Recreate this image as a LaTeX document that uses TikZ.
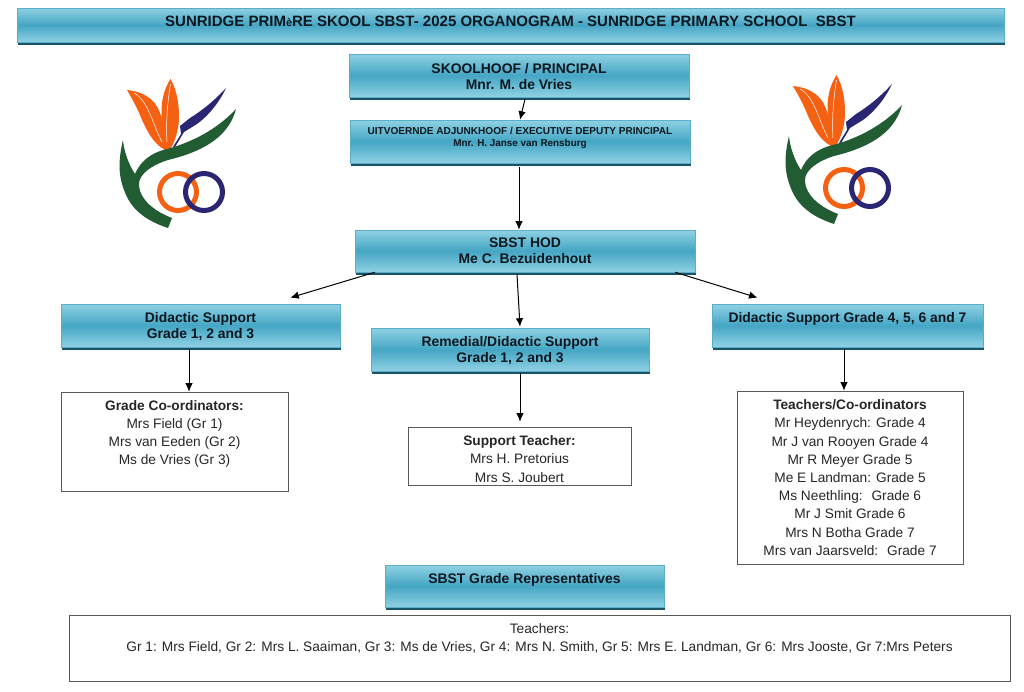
\documentclass[tikz,border=0pt]{standalone}
\usepackage{fontspec}
\setmainfont{Liberation Sans}
\usetikzlibrary{arrows.meta,shadows}
\definecolor{barlight}{rgb}{0.56,0.82,0.89}
\definecolor{barmid}{rgb}{0.27,0.65,0.77}
\definecolor{barline}{rgb}{0.36,0.68,0.78}
\definecolor{barshadow}{rgb}{0.10,0.33,0.40}
\definecolor{bartext}{rgb}{0.05,0.09,0.12}
\definecolor{logoorange}{rgb}{0.96,0.38,0.07}
\definecolor{logoblue}{rgb}{0.17,0.15,0.45}
\definecolor{logogreen}{rgb}{0.13,0.36,0.20}
\tikzset{bar/.style args={#1 by #2}{draw=barline, line width=0.6pt, top color=barlight, bottom color=barlight, middle color=barmid, general shadow={fill=barshadow, shadow xshift=1.2pt, shadow yshift=-2.6pt}, minimum width=#1pt, minimum height=#2pt, inner sep=0pt, align=center, text=bartext, font=\fontsize{13.9}{16}\selectfont\bfseries}}
\tikzset{sheet/.style args={#1 by #2}{draw=black!65, line width=0.6pt, fill=white, minimum width=#1pt, minimum height=#2pt, inner sep=0pt, align=center, text=black!85, font=\fontsize{13.7}{18.2}\selectfont}}
\tikzset{link/.style={line width=1pt, -{Latex[length=8.5pt,width=7.5pt]}}}
\tikzset{logo/.pic={
\fill[logoorange] (127,90) .. controls (145,92) and (158,100) .. (162,120) .. controls (160,100) and (165,88) .. (170.5,79) .. controls (178,92) and (180,110) .. (178.5,125) .. controls (177,135) and (174,143) .. (170,150) -- (165,150) .. controls (152,143) and (146,128) .. (142,120) .. controls (137,107) and (131,97) .. (127,90) -- cycle;
\draw[white, line width=0.5pt] (134,93) .. controls (148,100) and (153,125) .. (162,142);
\draw[white, line width=0.5pt] (170.5,84) .. controls (167,105) and (166,125) .. (167,142);
\fill[logoblue] (226,88) .. controls (219,103) and (208,116) .. (197,124) -- (184,132) -- (175,147) -- (173,147) -- (181,134) -- (180,126) -- (190,118) .. controls (203,110) and (215,100) .. (226,88) -- cycle;
\fill[logogreen] (236,109) .. controls (222,124) and (200,140) .. (167,149) .. controls (150,153) and (140,162) .. (135,174) .. controls (129,165) and (124,152) .. (123,140) .. controls (117,165) and (119,180) .. (127,197) .. controls (135,213) and (150,222) .. (168,228) -- (172,218) .. controls (156,212) and (139,200) .. (139,184) .. controls (139,174) and (152,165) .. (168,160) .. controls (197,153) and (228,140) .. (236,109) -- cycle;
\draw[logoorange, line width=5pt] (178,192) circle (18.5);
\draw[logoblue, line width=5pt] (204,192) circle (18.5);
}}

\begin{document}
\begin{tikzpicture}[x=1pt,y=-1pt]
\useasboundingbox (0,0) rectangle (1024,691);
\pic at (0,0) {logo};
\pic at (666,-4) {logo};
\node[bar=987 by 34, align=none, text depth=7pt, font=\fontsize{15}{16}\selectfont\bfseries] (title) at (510.5,25) {SUNRIDGE PRIM{\fontsize{11}{9}\selectfont è}RE SKOOL SBST- 2025 ORGANOGRAM - SUNRIDGE PRIMARY SCHOOL~ SBST};
\node[bar=340 by 43, text height=28pt, text depth=0pt] (principal) at (519,75.5) {SKOOLHOOF / PRINCIPAL\\Mnr. M. de Vries};
\node[bar=340 by 43, font=\fontsize{10.05}{12}\selectfont\bfseries, text depth=9pt] (deputy) at (520,141.5) {UITVOERNDE ADJUNKHOOF / EXECUTIVE DEPUTY PRINCIPAL\\{\fontsize{9.9}{12}\selectfont Mnr. H. Janse van Rensburg}};
\node[bar=340 by 42, text depth=1pt] (hod) at (525,251) {SBST HOD\\Me C. Bezuidenhout};
\node[bar=279 by 43, text depth=-1.5pt] (didleft) at (200.5,325.5) {Didactic Support\\Grade 1, 2 and 3};
\node[bar=278 by 43, text depth=-1pt] (remedial) at (510,349.5) {Remedial/Didactic Support\\Grade 1, 2 and 3};
\node[bar=271 by 43, text depth=17pt] (didright) at (847.5,325.5) {Didactic Support Grade 4, 5, 6 and 7};
\node[bar=279 by 42, text depth=15pt] (reps) at (524.5,586) {SBST Grade Representatives};
\node[sheet=227 by 99, text depth=18pt] (coord) at (174.5,441.5) {\textbf{Grade Co-ordinators:}\\Mrs Field (Gr 1)\\Mrs van Eeden (Gr 2)\\Ms de Vries (Gr 3)};
\node[sheet=223 by 58, text height=52pt, text depth=0pt] (support) at (519.5,456) {\textbf{Support Teacher:}\\Mrs H. Pretorius\\Mrs S. Joubert};
\node[sheet=226 by 173, text depth=0pt] (teachers) at (850,477.5) {\textbf{Teachers/Co-ordinators}\\Mr Heydenrych: Grade 4\\Mr J van Rooyen Grade 4\\Mr R Meyer Grade 5\\Me E Landman: Grade 5\\Ms Neethling:~ Grade 6\\Mr J Smit Grade 6\\Mrs N Botha Grade 7\\Mrs van Jaarsveld:~ Grade 7};
\node[sheet=941 by 66, text depth=21pt] (allreps) at (539.5,648) {Teachers:\\Gr 1: Mrs Field, Gr 2: Mrs L. Saaiman, Gr 3: Ms de Vries, Gr 4: Mrs N. Smith, Gr 5: Mrs E. Landman, Gr 6: Mrs Jooste, Gr 7:Mrs Peters};
% arrows
\draw[link] ([xshift=6pt,yshift=-2pt]principal.south) to (deputy.north);
\draw[link] ([xshift=-1pt,yshift=-4pt]deputy.south) to ([xshift=-6pt]hod.north);
\draw[link] ([xshift=20pt]hod.south west) to ([xshift=-50pt,yshift=6pt]didleft.north east);
\draw[link] ([xshift=-8pt,yshift=-2pt]hod.south) to ([xshift=10pt,yshift=1pt]remedial.north);
\draw[link] ([xshift=-20pt]hod.south east) to ([xshift=-90pt,yshift=6pt]didright.north);
\draw[link] ([xshift=-11.5pt,yshift=-2pt]didleft.south) to ([xshift=14.5pt]coord.north);
\draw[link] ([xshift=10pt,yshift=-2pt]remedial.south) to ([xshift=0.5pt,yshift=5pt]support.north);
\draw[link] ([xshift=-3.5pt,yshift=-2pt]didright.south) to ([xshift=-6pt]teachers.north);
\end{tikzpicture}
\end{document}
